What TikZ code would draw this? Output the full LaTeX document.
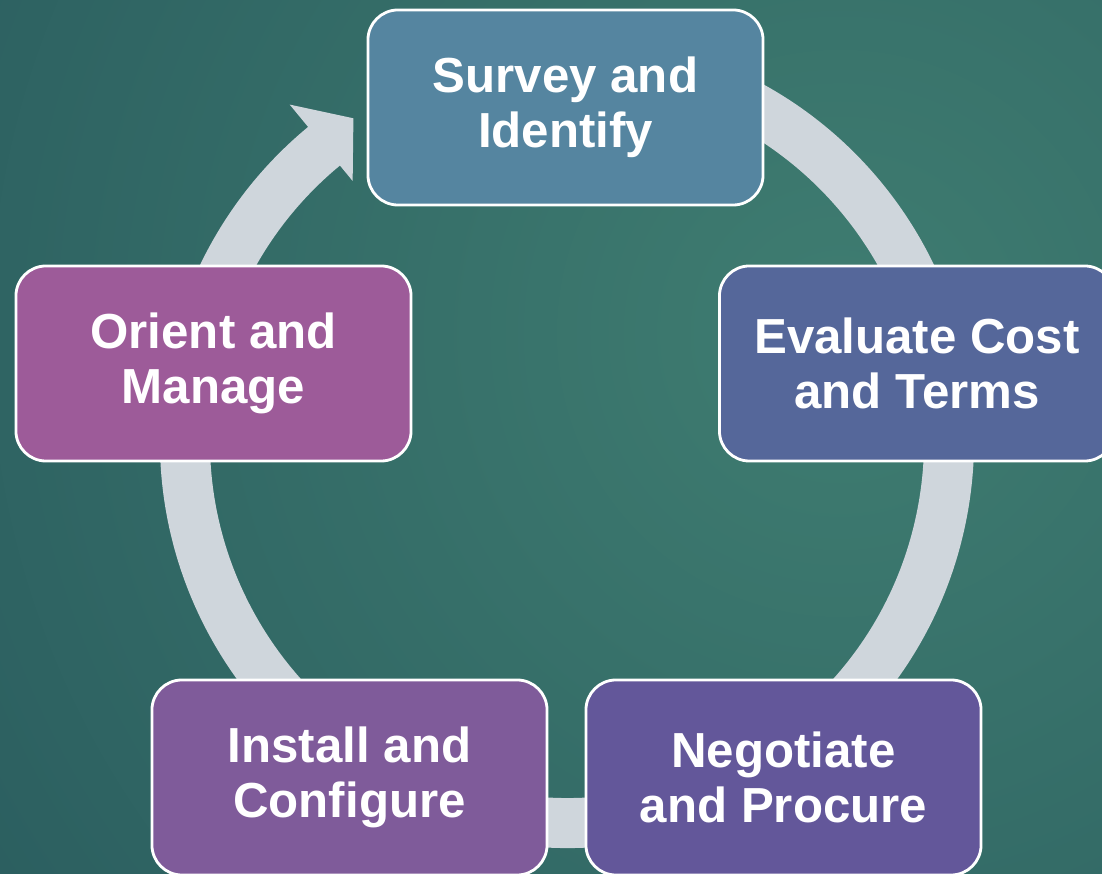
\documentclass[tikz,border=0pt]{standalone}
\usepackage{fontspec}
\setmainfont{Liberation Sans}
\usetikzlibrary{positioning,calc}

\definecolor{bgdark}{HTML}{1E4A54}
\definecolor{bglight}{HTML}{3F7D71}
\definecolor{ringgray}{HTML}{CFD6DC}
\definecolor{surveyblue}{HTML}{5585A0}
\definecolor{evalblue}{HTML}{55679A}
\definecolor{negpurple}{HTML}{63579A}
\definecolor{instpurple}{HTML}{7F5B9A}
\definecolor{orientmauve}{HTML}{9D5B99}

\begin{document}
\begin{tikzpicture}[
        x=0.025cm, y=0.025cm,
        stage/.style={rectangle, rounded corners=0.75cm, draw=white, line width=2pt, align=center, text=white, font=\bfseries\fontsize{35}{39}\selectfont, minimum width=9.875cm, minimum height=4.875cm},
        ring/.style={draw=ringgray, line width=1.25cm}
    ]
        \useasboundingbox (0,0) rectangle (1102,873);
        \clip (0,0) rectangle (1102,873);
        \shade[inner color=bglight, outer color=bgdark] (840,540) circle (1700);

        % cycle ring with arrow into the first stage
        \coordinate (ringc) at (567,432);
        \draw[ring] ($(ringc)+(80:382)$) arc[start angle=80, end angle=-231, radius=382];
        \fill[ringgray, shift={(ringc)}] (129.5:436) -- (123.5:387) -- (129.5:337) -- cycle;

        \node[stage, fill=surveyblue] (survey) at (565.5,765.5) {Survey and\\Identify};
        \node[stage, fill=evalblue] (evaluate) at (917,509.5) {Evaluate Cost\\and Terms};
        \node[stage, fill=negpurple] (negotiate) at (783.5,95.5) {Negotiate\\and Procure};
        \node[stage, fill=instpurple] (install) at (349.5,95.5) {Install and\\Configure};
        \node[stage, fill=orientmauve] (orient) at (213.5,509.5) {Orient and\\Manage};
    \end{tikzpicture}
\end{document}
